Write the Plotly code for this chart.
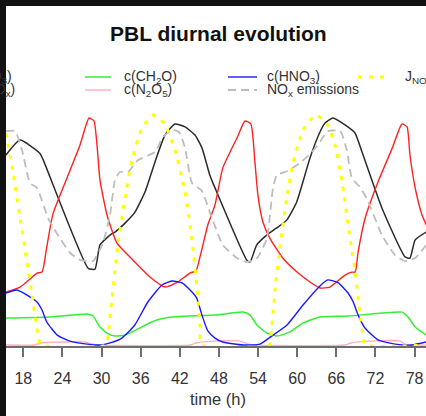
import plotly.graph_objects as go

# ---------------- data ----------------
o3_t = [15.35, 17.5, 20.56, 21.07, 27.97, 29.0, 29.76, 31.3, 32.06, 33.6, 35.13, 36.66, 38.2, 39.73,
        41.26, 42.8, 44.33, 45.4, 46.6, 47.4, 52.26, 52.77, 53.8, 55.33, 56.87, 58.4, 59.93, 61.97,
        63.5, 64.27, 65.5, 67.34, 68.87, 69.95, 73.0, 76.55, 77.3, 78.1, 79.8]
o3_v = [0.826, 0.891, 0.833, 0.804, 0.333, 0.330, 0.435, 0.478, 0.491, 0.530, 0.578, 0.665, 0.796, 0.913,
        0.961, 0.948, 0.913, 0.857, 0.739, 0.683, 0.370, 0.361, 0.435, 0.478, 0.509, 0.543, 0.622, 0.813,
        0.926, 0.965, 0.987, 0.957, 0.922, 0.839, 0.596, 0.383, 0.378, 0.457, 0.491]

nox_t = [15.35, 17.5, 19.03, 20.1, 20.87, 21.6, 22.55, 24.7, 26.7, 28.08, 28.84, 29.3, 29.76, 30.84,
         32.37, 34.8, 37.43, 39.73, 41.7, 43.56, 44.48, 45.1, 46.3, 47.4, 48.6, 50.77, 52.0, 52.9,
         53.5, 53.98, 54.75, 55.8, 57.8, 59.98, 61.97, 63.5, 65.0, 67.34, 68.4, 68.9, 69.35, 70.43,
         72.4, 74.6, 76.07, 76.85, 77.3, 78.1, 79.15, 79.8]
nox_v = [0.230, 0.252, 0.287, 0.313, 0.317, 0.426, 0.570, 0.726, 0.870, 0.987, 0.974, 0.870, 0.717, 0.565,
         0.443, 0.370, 0.296, 0.252, 0.274, 0.313, 0.322, 0.383, 0.522, 0.609, 0.770, 0.900, 0.974, 0.961,
         0.804, 0.652, 0.535, 0.465, 0.378, 0.317, 0.274, 0.248, 0.252, 0.304, 0.317, 0.317, 0.404, 0.552,
         0.709, 0.857, 0.961, 0.948, 0.826, 0.683, 0.565, 0.522]

ch2o_t = [15.35, 22.1, 27.8, 28.7, 29.76, 30.84, 32.06, 33.6, 35.6, 37.7, 39.7, 43.26, 47.4, 51.7,
          52.77, 53.84, 55.37, 56.9, 58.9, 60.9, 63.5, 67.8, 73.0, 76.07, 77.0, 78.1, 79.8]
ch2o_v = [0.117, 0.122, 0.135, 0.126, 0.078, 0.052, 0.039, 0.043, 0.070, 0.100, 0.117, 0.126, 0.130, 0.143,
          0.130, 0.087, 0.052, 0.039, 0.057, 0.096, 0.122, 0.126, 0.139, 0.143, 0.122, 0.078, 0.043]

n2o5_t = [15.35, 19.8, 20.9, 23.6, 27.5, 28.5, 29.3, 43.6, 44.6, 47.4, 51.2, 52.4, 53.2,
          67.3, 68.4, 71.2, 75.8, 76.5, 77.3, 79.8]
n2o5_v = [0.0, 0.0, 0.010, 0.013, 0.013, 0.005, 0.0, 0.0, 0.010, 0.017, 0.017, 0.005, 0.0,
          0.0, 0.010, 0.017, 0.017, 0.005, 0.0, 0.0]

hno3_t = [15.35, 17.03, 18.57, 20.1, 20.87, 21.6, 23.2, 25.16, 27.8, 29.76, 31.3, 33.1, 35.1, 37.1,
          39.27, 40.8, 42.34, 43.87, 44.6, 45.4, 46.3, 47.4, 48.6, 51.7, 54.3, 56.3, 58.45, 60.9,
          63.5, 64.7, 66.3, 67.8, 68.6, 69.35, 70.4, 72.4, 75.0, 77.6, 79.8]
hno3_v = [0.226, 0.239, 0.217, 0.187, 0.152, 0.100, 0.043, 0.017, 0.004, 0.0, 0.009, 0.030, 0.087, 0.187,
          0.261, 0.278, 0.270, 0.230, 0.204, 0.130, 0.061, 0.030, 0.013, 0.0, 0.004, 0.043, 0.087, 0.174,
          0.257, 0.283, 0.270, 0.226, 0.187, 0.130, 0.074, 0.022, 0.004, 0.0, 0.013]

emis_t = [15.35, 16.73, 17.8, 19.03, 20.1, 21.8, 23.6, 25.2, 26.7, 28.7, 30.2, 31.3, 32.06, 32.8,
          34.06, 35.6, 38.2, 39.4, 40.8, 41.88, 42.8, 43.87, 45.4, 46.6, 48.6, 50.77, 52.3, 53.84,
          55.37, 56.3, 56.9, 58.6, 60.4, 62.3, 63.5, 64.7, 66.6, 67.6, 68.4, 69.6, 70.8, 73.0,
          75.0, 76.55, 78.1, 79.8]
emis_v = [0.930, 0.930, 0.848, 0.704, 0.683, 0.552, 0.465, 0.400, 0.370, 0.365, 0.443, 0.565, 0.717, 0.752,
          0.752, 0.804, 0.839, 0.904, 0.935, 0.926, 0.857, 0.704, 0.670, 0.578, 0.435, 0.378, 0.361, 0.378,
          0.465, 0.683, 0.739, 0.757, 0.791, 0.839, 0.883, 0.930, 0.930, 0.848, 0.726, 0.687, 0.630, 0.478,
          0.391, 0.365, 0.378, 0.435]

jno2_t = [15.35, 16.42, 17.5, 18.57, 19.5, 20.25, 20.7, 30.7, 31.0, 31.6, 32.5, 33.6, 34.67, 36.2,
          37.9, 39.7, 41.26, 42.8, 43.87, 44.6, 45.1, 45.4, 55.7, 56.0, 56.6, 57.4, 58.4, 59.4,
          60.9, 62.9, 64.7, 65.8, 66.9, 67.8, 68.9, 69.6, 70.1, 70.4, 79.8]
jno2_v = [0.922, 0.752, 0.552, 0.361, 0.187, 0.043, 0.0, 0.0, 0.043, 0.204, 0.435, 0.639, 0.804, 0.943,
          1.0, 0.961, 0.848, 0.665, 0.457, 0.261, 0.087, 0.0, 0.0, 0.043, 0.239, 0.435, 0.639, 0.796,
          0.935, 1.0, 0.957, 0.870, 0.709, 0.522, 0.317, 0.143, 0.043, 0.0, 0.0]

tick_vals = [18, 24, 30, 36, 42, 48, 54, 60, 66, 72, 78]
tick_text = [str(v) for v in tick_vals]

title_text = "<b>PBL diurnal evolution</b>"
x_title = "time (h)"

# ---------------- figure ----------------
W, H = 426, 416
ML, MR, MT, MB = 6, 0, 105, 70
PW, PH = W - ML - MR, H - MT - MB


def xp(px):
    return (px - ML) / PW


def yp(py):
    return (H - MB - py) / PH


FONT = "Liberation Sans, Arial, sans-serif"
fig = go.Figure()

series = [
    ("c(O<sub>3</sub>)", o3_t, o3_v, dict(color="#2b2b2b", width=1.5)),
    ("c(NO<sub>x</sub>)", nox_t, nox_v, dict(color="#ff2020", width=1.4)),
    ("c(CH<sub>2</sub>O)", ch2o_t, ch2o_v, dict(color="#33ee33", width=1.5)),
    ("c(N<sub>2</sub>O<sub>5</sub>)", n2o5_t, n2o5_v, dict(color="#ffb0bc", width=1.4)),
    ("c(HNO<sub>3</sub>)", hno3_t, hno3_v, dict(color="#1a1aff", width=1.4)),
    ("NO<sub>x</sub> emissions", emis_t, emis_v, dict(color="#bdbdbd", width=1.8, dash="8px,5px")),
    ("J<sub>NO2</sub>", jno2_t, jno2_v, dict(color="#ffff00", width=3, dash="4px,7px")),
]
for name, t, v, ln in series:
    fig.add_trace(go.Scatter(x=t, y=v, mode="lines", name=name, line=dict(shape="spline", smoothing=0.5, **ln),
                             showlegend=False, hoverinfo="skip"))

yr0 = -1 / 230
yr1 = yr0 + PH / 230
fig.update_layout(
    width=W, height=H,
    margin=dict(l=ML, r=MR, t=MT, b=MB, pad=0),
    paper_bgcolor="white", plot_bgcolor="white",
    showlegend=False,
    xaxis=dict(range=[15.347, 79.76], tickvals=tick_vals, ticktext=tick_text, showgrid=False, zeroline=False,
               showline=True, linecolor="#6e6e6e", linewidth=1.5, ticks="outside", ticklen=9, tickwidth=1.5,
               tickcolor="#6e6e6e", tickfont=dict(family=FONT, size=16, color="#333333"),
               ticklabelstandoff=8),
    yaxis=dict(range=[yr0, yr1], visible=False),
)

ann = []
shapes = []

# dark frame bands (top and left) of the cropped picture
BAND = "#121212"
shapes.append(dict(type="rect", xref="paper", yref="paper", x0=xp(0), x1=xp(6), y0=yp(H), y1=yp(0),
                   fillcolor=BAND, line=dict(width=0), layer="above"))
shapes.append(dict(type="rect", xref="paper", yref="paper", x0=xp(0), x1=xp(W), y0=yp(6), y1=yp(0),
                   fillcolor=BAND, line=dict(width=0), layer="above"))

# title and axis title
ann.append(dict(text=title_text, x=xp(218.5), y=yp(33.5), xref="paper", yref="paper", showarrow=False,
                xanchor="center", yanchor="middle", font=dict(family=FONT, size=21, color="#111111")))
ann.append(dict(text=x_title, x=xp(218), y=yp(399), xref="paper", yref="paper", showarrow=False,
                xanchor="center", yanchor="middle", font=dict(family=FONT, size=16.5, color="#333333")))

# legend built from shapes + annotations
leg_font = dict(family=FONT, size=14, color="#333333")
rows = [77, 90]
legend_cells = [
    # (label, line style, line x0, line x1, text x, row, anchor)
    (series[0][0], series[0][3], -30, -5, 14, 0, "right"),
    (series[1][0], series[1][3], -30, -5, 16.5, 1, "right"),
    (series[2][0], series[2][3], 85, 111, 122, 0, "left"),
    (series[3][0], series[3][3], 85, 111, 122, 1, "left"),
    (series[4][0], series[4][3], 228, 257, 265, 0, "left"),
    (series[5][0], series[5][3], 228, 257, 265, 1, "left"),
    (series[6][0], series[6][3], 358, 391, 403, 0, "left"),
]
for label, ln, x0, x1, tx, r, anc in legend_cells:
    py = rows[r]
    sl = dict(color=ln["color"], width=ln["width"])
    if "dash" in ln:
        sl["dash"] = ln["dash"]
    shapes.append(dict(type="line", xref="paper", yref="paper", x0=xp(x0), x1=xp(x1), y0=yp(py), y1=yp(py), line=sl))
    ann.append(dict(text=label, x=xp(tx), y=yp(py), xref="paper", yref="paper", showarrow=False,
                    xanchor=anc, yanchor="middle", font=leg_font))

fig.update_layout(annotations=ann, shapes=shapes)
fig.write_html("out.html", config={"displayModeBar": False},
               post_script="document.body.style.margin='0';")
